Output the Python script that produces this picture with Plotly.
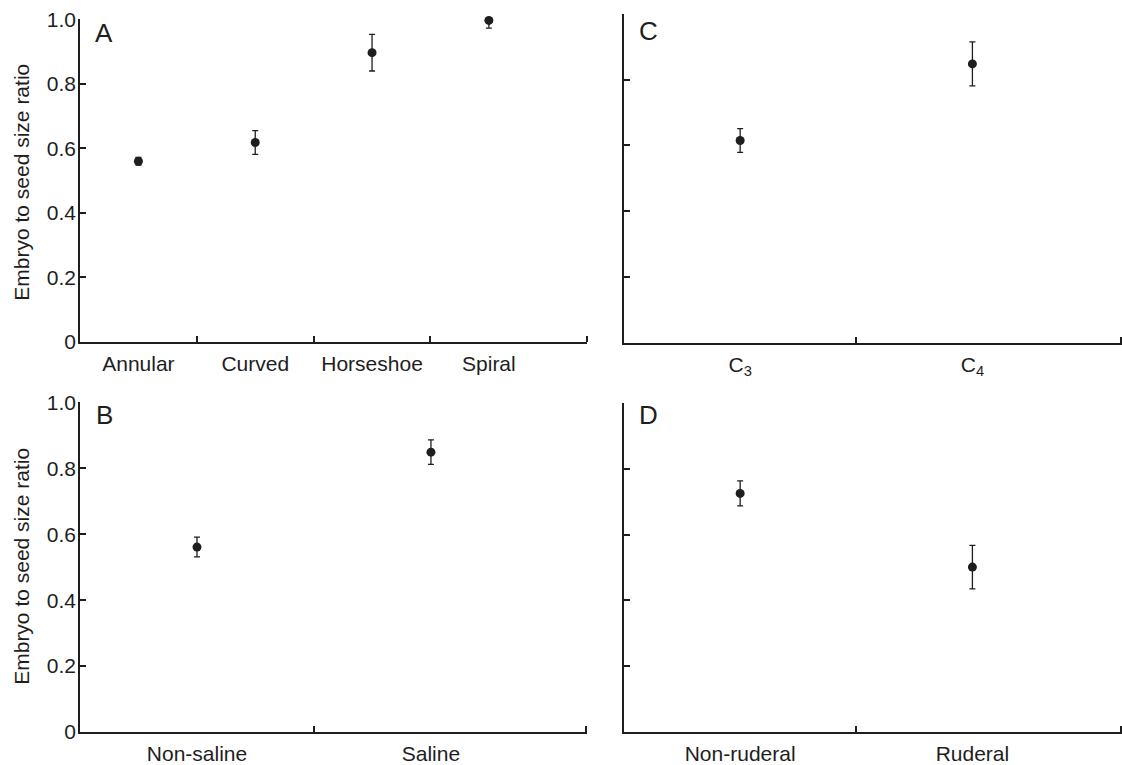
import plotly.graph_objects as go

# ---- data ----
cat_a = ["Annular", "Curved", "Horseshoe", "Spiral"]
val_a = [0.560, 0.618, 0.897, 0.997]
err_a = [0.012, 0.037, 0.057, 0.024]

cat_b = ["Non-saline", "Saline"]
val_b = [0.561, 0.849]
err_b = [0.030, 0.037]

cat_c = ["C<sub>3</sub>", "C<sub>4</sub>"]
val_c = [0.615, 0.848]
err_c = [0.036, 0.067]

cat_d = ["Non-ruderal", "Ruderal"]
val_d = [0.725, 0.501]
err_d = [0.038, 0.066]

y_ticks = [0, 0.2, 0.4, 0.6, 0.8, 1.0]
y_ticktext = ["0", "0.2", "0.4", "0.6", "0.8", "1.0"]
y_title = "Embryo to seed size ratio"

W, H = 1122, 765
INK = "#1e1e1e"
FONT = "Liberation Sans, Arial, Helvetica, sans-serif"

# panel geometry in layout pixels: (x0, x1, ytop, ybottom), x-range end, letter y, title y
panels = [
    ("A", cat_a, val_a, err_a, (80, 587, 7.7, 339.8), 3.84, 21.5, 176, True),
    ("B", cat_b, val_b, err_b, (80, 587, 402.5, 742.3), 1.667, 415.5, 572, True),
    ("C", cat_c, val_c, err_c, (624, 1122, 2.0, 340.9), 1.644, 19.5, None, False),
    ("D", cat_d, val_d, err_d, (624, 1122, 403.0, 742.3), 1.644, 415.5, None, False),
]

fig = go.Figure()
layout = {}
annotations = []

for i, (lab, cats, vals, errs, geom, xend, ly, ty, show_y) in enumerate(panels, start=1):
    x0, x1, yt, yb = geom
    xs = list(range(len(cats)))
    sfx = "" if i == 1 else str(i)
    fig.add_trace(go.Scatter(
        x=xs, y=vals, mode="markers",
        marker=dict(size=9, color=INK),
        error_y=dict(type="data", array=errs, visible=True,
                     color=INK, thickness=1.3, width=3),
        xaxis="x" + sfx, yaxis="y" + sfx, cliponaxis=False,
        showlegend=False, hoverinfo="skip",
    ))
    bounds = [k + 0.5 for k in range(len(cats) - 1)] + [xend - 0.003]
    layout["xaxis" + sfx] = dict(
        domain=[x0 / W, x1 / W], anchor="y" + sfx,
        range=[-0.5, xend], tickvals=xs, ticktext=cats, ticks="",
        showline=True, linecolor=INK, linewidth=1.5,
        showgrid=False, zeroline=False, fixedrange=True,
        tickfont=dict(size=21, color=INK, family=FONT),
        ticklabelstandoff=2,
        minor=dict(tickvals=bounds, ticks="inside", ticklen=6,
                   tickcolor=INK, tickwidth=1.5, showgrid=False),
    )
    layout["yaxis" + sfx] = dict(
        domain=[1 - yb / H, 1 - yt / H], anchor="x" + sfx,
        range=[0, 1.0], tickvals=y_ticks, ticktext=y_ticktext,
        showticklabels=show_y, ticks="inside", ticklen=6,
        tickcolor=INK, tickwidth=1.5,
        showline=True, linecolor=INK, linewidth=1.5,
        showgrid=False, zeroline=False, fixedrange=True,
        tickfont=dict(size=21, color=INK, family=FONT),
        ticklabelstandoff=-2,
    )
    annotations.append(dict(
        text=lab, xref="paper", yref="paper",
        x=(x0 + 24) / W, y=1 - ly / H,
        xanchor="center", yanchor="middle", showarrow=False,
        font=dict(size=26, color=INK, family=FONT),
    ))
    if show_y:
        annotations.append(dict(
            text=y_title, xref="paper", yref="paper",
            x=22 / W, y=1 - ty / H, textangle=-90,
            xanchor="center", yanchor="middle", showarrow=False,
            font=dict(size=21, color=INK, family=FONT),
        ))

layout.update(
    width=W, height=H, autosize=False,
    margin=dict(l=0, r=0, t=0, b=0, pad=0),
    paper_bgcolor="white", plot_bgcolor="white",
    annotations=annotations,
    font=dict(family=FONT, color=INK),
)
fig.update_layout(**layout)
fig.write_html("out.html", config={"displayModeBar": False})
